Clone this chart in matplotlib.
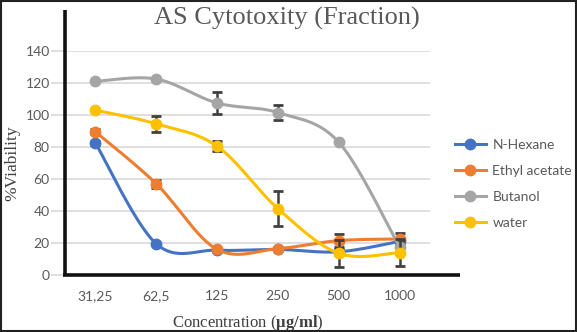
import matplotlib
matplotlib.use('Agg')
import matplotlib.pyplot as plt
import numpy as np
from matplotlib.patches import Rectangle
from matplotlib.lines import Line2D

# Viability (%) per fraction across concentrations
conc_labels = ['31,25', '62,5', '125', '250', '500', '1000']

hexane = [82.5, 19.5, 15.5, 16, 14.5, 21]
hexane_err = [1.5, 0.5, 0.5, 0.5, 2, 2]

ethyl = [89.5, 57, 16, 16.5, 21.5, 22.5]
ethyl_err = [1.5, 2.5, 0.5, 0.5, 4, 3.5]

butanol = [121, 122.5, 107.5, 101.5, 83, 17.5]
butanol_err = [0.5, 0.5, 7, 4.5, 0.5, 4]

water = [103, 94.5, 80.5, 41.5, 13.5, 14]
water_err = [0.5, 5, 3, 11, 8.3, 8.5]

series = [
    ('N-Hexane', hexane, hexane_err, '#4472C4'),
    ('Ethyl acetate', ethyl, ethyl_err, '#ED7D31'),
    ('Butanol', butanol, butanol_err, '#A5A5A5'),
    ('water', water, water_err, '#FFC000'),
]

plt.rcParams['mathtext.fontset'] = 'custom'
plt.rcParams['mathtext.rm'] = 'Liberation Serif'
plt.rcParams['mathtext.bf'] = 'Liberation Serif:bold'

SANS = 'Lato'
SERIF = 'Liberation Serif'
TXT = '#595959'


def smooth(xs, ys, n=30):
    # Excel-style smoothed line: cubic Bezier segments with Catmull-Rom handles
    pts = np.column_stack([xs, ys]).astype(float)
    out = []
    for i in range(len(pts) - 1):
        p0 = pts[max(i - 1, 0)]
        p1 = pts[i]
        p2 = pts[i + 1]
        p3 = pts[min(i + 2, len(pts) - 1)]
        c1 = p1 + (p2 - p0) / 6
        c2 = p2 - (p3 - p1) / 6
        t = np.linspace(0, 1, n)[:, None]
        seg = ((1 - t) ** 3) * p1 + 3 * ((1 - t) ** 2) * t * c1 + 3 * (1 - t) * t ** 2 * c2 + t ** 3 * p2
        out.append(seg if i == 0 else seg[1:])
    curve = np.vstack(out)
    return curve[:, 0], curve[:, 1]


fig = plt.figure(figsize=(5.77, 3.32), dpi=100)
ax = fig.add_axes([65 / 577, 1 - 275 / 332, 365 / 577, 224 / 332])

x = np.arange(len(conc_labels))
z = 3
for name, vals, errs, color in series:
    sx, sy = smooth(x, vals)
    ax.errorbar(x, vals, yerr=errs, fmt='none', ecolor='#404040', elinewidth=1.8,
                capsize=3.5, capthick=2, zorder=z)
    ax.plot(sx, sy, color=color, lw=2.2, zorder=z + 0.1, solid_capstyle='round')
    ax.plot(x, vals, 'o', color=color, ms=7.5, zorder=z + 0.2)
    z += 1

ax.set_xlim(-0.5, len(conc_labels) - 0.5)
ax.set_ylim(0, 140)
ax.set_yticks(np.arange(0, 141, 20))
ax.set_xticks(x)
ax.set_xticklabels(conc_labels)
ax.grid(axis='y', color='#D9D9D9', lw=1.2)
ax.set_axisbelow(True)
for s in ax.spines.values():
    s.set_visible(False)

ax.tick_params(axis='y', length=10, width=1.2, color='#D9D9D9', pad=1,
               labelsize=10, labelcolor=TXT)
ax.tick_params(axis='x', length=0, pad=11, labelsize=10, labelcolor=TXT)
for lab in ax.get_xticklabels() + ax.get_yticklabels():
    lab.set_fontfamily(SANS)

# heavy axis lines, extended beyond the plot area
ax.add_line(Line2D([0, 0], [0, 1.183], transform=ax.transAxes, color='#111111',
                   lw=2.6, clip_on=False, zorder=10, solid_capstyle='butt'))
ax.add_line(Line2D([-0.005, 1.082], [0, 0], transform=ax.transAxes, color='#111111',
                   lw=2.6, clip_on=False, zorder=10, solid_capstyle='butt'))

fig.text(0.497, 1 - 18 / 332, 'AS Cytotoxity (Fraction)', ha='center', va='center',
         fontsize=19, family=SERIF, color=TXT)
ax.set_ylabel('%Viability', fontsize=12.5, family=SERIF, color='#404040', labelpad=4)
ax.set_xlabel('Concentration ($\\mathbf{μg/ml}$)', fontsize=12, family=SERIF,
              color='#404040', labelpad=8)

handles = [Line2D([], [], color=c, lw=2.2, marker='o', ms=7.5) for _, _, _, c in series]
leg = fig.legend(handles, [s[0] for s in series], loc='upper left',
                 bbox_to_anchor=(455 / 577, 1 - 139 / 332), frameon=False,
                 borderpad=0, borderaxespad=0, handlelength=2.2, handletextpad=0.5,
                 labelspacing=1.0, prop={'family': SANS, 'size': 10})
for t in leg.get_texts():
    t.set_color(TXT)

fig.add_artist(Rectangle((0.0015, 0.0025), 0.997, 0.995, transform=fig.transFigure,
                         fill=False, edgecolor='#222222', lw=1.5))

fig.savefig('out.png', dpi=100)
